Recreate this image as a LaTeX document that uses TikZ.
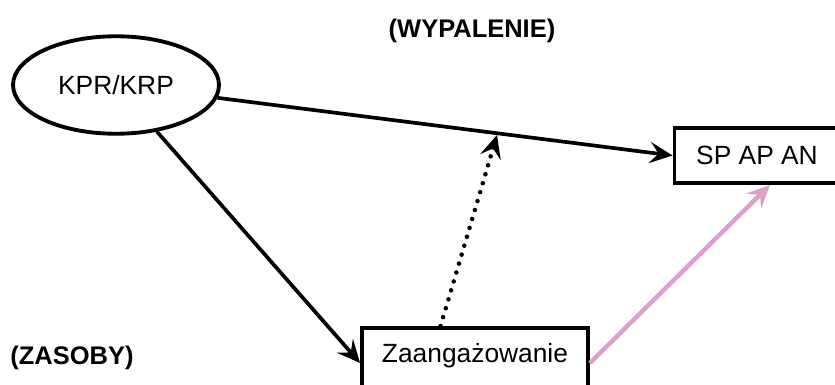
\documentclass[tikz,border=0pt]{standalone}
\usepackage{fontspec}
\setmainfont{Liberation Sans}
\usepackage{tikz}
\usetikzlibrary{calc}
\usetikzlibrary{shapes.geometric}
\usetikzlibrary{arrows.meta}

\definecolor{pinkline}{RGB}{222,160,200}

\begin{document}
\begin{tikzpicture}[x=0.02cm, y=-0.02cm,
    every node/.style={font=\fontsize{15}{18}\selectfont},
    box/.style={draw, rectangle, line width=2.2pt},
    arr/.style={line width=2.1pt, -{Stealth[length=13pt, width=12pt, inset=5pt]}}]
        \def\W{835}  % width of picture
        \def\H{385}  % height of picture

        \useasboundingbox (0,0) rectangle (\W,\H);
        \clip (0,0) rectangle (\W,\H);

        % Draw the three variables
        \node[draw, ellipse, line width=2.2pt, minimum width=4.12cm, minimum height=1.95cm] (kpr) at (116,85) {KPR/KRP};
        \node[box, minimum width=3.3cm, minimum height=1.1cm] (sp) at (757,155.5) {SP AP AN};
        \node[box, minimum width=4.52cm, minimum height=1.4cm, text depth=12pt] (zaang) at (475,363) {Zaangażowanie};

        % Draw the group labels
        \node[font=\fontsize{14.5}{17}\bfseries] (wyp) at (472,31) {(WYPALENIE)};
        \node[font=\fontsize{14.5}{17}\bfseries] (zas) at (72,358) {(ZASOBY)};

        % Points for the moderating arrow
        \coordinate (Z) at ($(zaang.north west)!0.35!(zaang.north east)$);
        \coordinate (M) at (497,135);
        \coordinate (S) at ($(sp.south)+(13,0)$);

        % Draw the paths
        \draw[arr] (kpr) -- (sp.west);
        \draw[arr] (kpr) -- (zaang.west);
        \draw[arr, line cap=round, dash pattern=on 0pt off 5.3pt, line width=2.6pt] (Z) -- (M);
        \draw[arr, pinkline, line width=2.5pt] (zaang.east) -- (S);

      \end{tikzpicture}
\end{document}
